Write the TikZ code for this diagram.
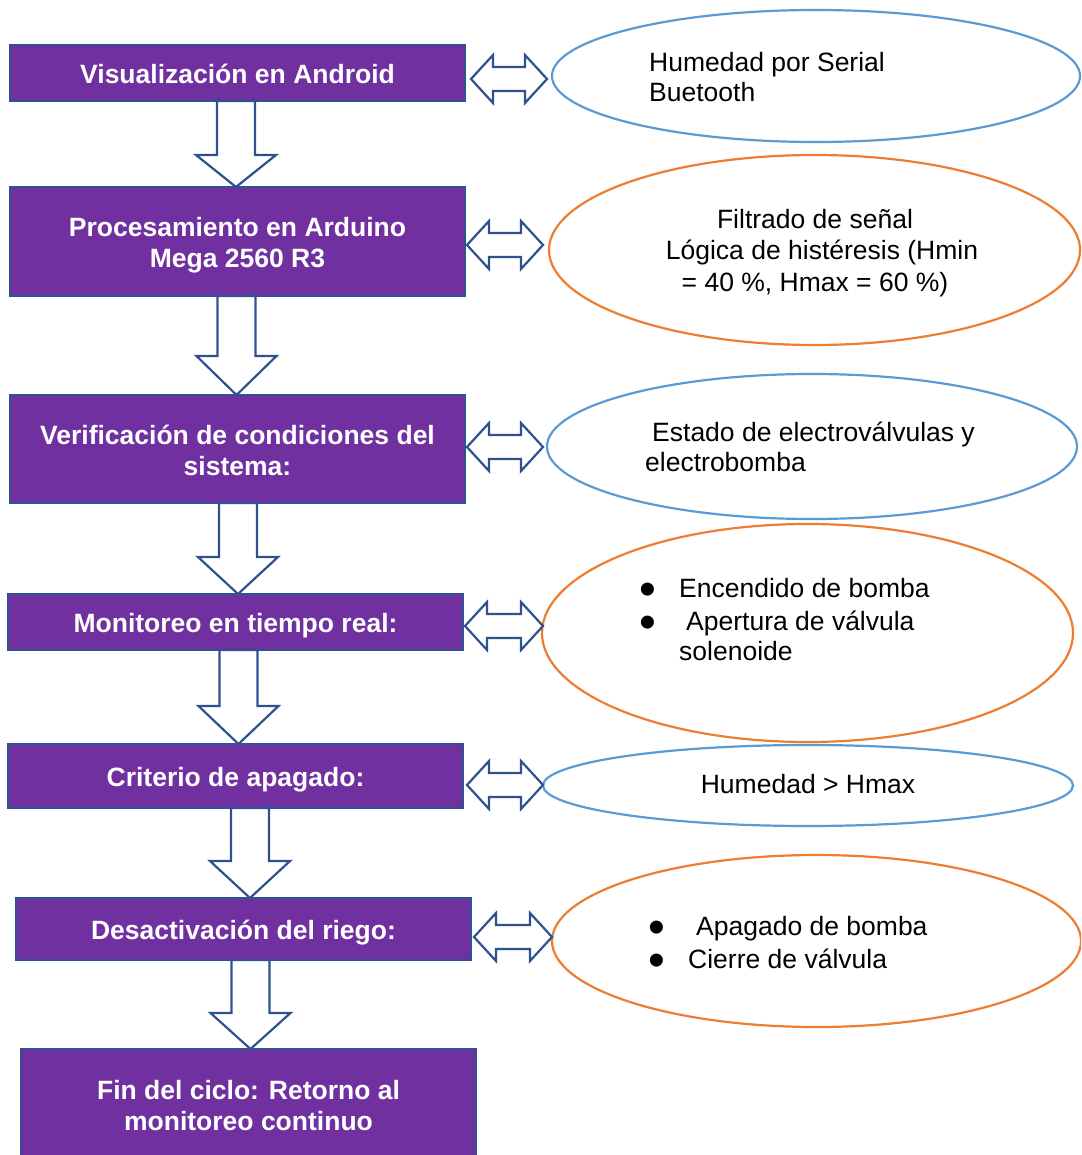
\documentclass[tikz,border=0pt]{standalone}
\usepackage{fontspec}
\setmainfont{Liberation Sans}
\usetikzlibrary{calc,shapes.geometric}
\definecolor{boxpurple}{HTML}{7030A0}
\definecolor{boxedge}{HTML}{2F528F}
\definecolor{eblue}{HTML}{5B9BD5}
\definecolor{eorange}{HTML}{ED7D31}
\tikzset{
  stepbox/.style={rectangle, fill=boxpurple, draw=boxedge, line width=2.5pt, outer sep=0pt, inner sep=0pt,
    minimum width=455pt},
  boxtext/.style={inner sep=0pt, text=white, align=center, font=\fontsize{26.5}{31}\selectfont\bfseries},
  ell/.style={ellipse, line width=2.2pt, outer sep=0pt, inner sep=0pt, fill=white},
  etext/.style={inner sep=0pt, font=\fontsize{26.5}{31}\selectfont, text=black},
  bullet/.style={inner sep=0pt, font=\fontsize{48}{48}\selectfont, text=black, anchor=base,
    text height=21pt, text depth=0pt},
  barrow/.style={draw=boxedge, fill=white, line width=2.2pt, line join=miter},
}
\newcommand{\blockdown}[4]{%
  \draw[barrow] let \p1=(#1.south), \p2=(#2.north) in
  ({#3pt-19pt},\y1) -- ({#3pt-19pt},{\y2+#4pt}) -- ({#3pt-40pt},{\y2+#4pt}) -- (#3pt,\y2)
  -- ({#3pt+40pt},{\y2+#4pt}) -- ({#3pt+19pt},{\y2+#4pt}) -- ({#3pt+19pt},\y1) -- cycle;}
\newcommand{\blockboth}[5]{%
  \draw[barrow] let \p1=(#1.east), \p2=(#2.west) in
  ({\x1+(#4)*1pt},{-#3pt}) -- ({\x1+(#4)*1pt+22pt},{-#3pt+24pt}) -- ({\x1+(#4)*1pt+22pt},{-#3pt+12pt})
  -- ({\x2+(#5)*1pt-22pt},{-#3pt+12pt}) -- ({\x2+(#5)*1pt-22pt},{-#3pt+24pt}) -- ({\x2+(#5)*1pt},{-#3pt})
  -- ({\x2+(#5)*1pt-22pt},{-#3pt-24pt}) -- ({\x2+(#5)*1pt-22pt},{-#3pt-12pt})
  -- ({\x1+(#4)*1pt+22pt},{-#3pt-12pt}) -- ({\x1+(#4)*1pt+22pt},{-#3pt-24pt}) -- cycle;}
\begin{document}
\begin{tikzpicture}[x=1pt,y=1pt]
\useasboundingbox (0,0) rectangle (1081,-1155);
\clip (0,0) rectangle (1081,-1155);
\fill[white] (0,0) rectangle (1081,-1155);

% box outlines placed first (invisible) so the block arrows can run beneath the boxes
\path (237.5,-73) node[stepbox, minimum height=56pt, draw=none, fill=none] (b1) {};
\path (237.5,-241.5) node[stepbox, minimum height=109pt, draw=none, fill=none] (b2) {};
\path (237.5,-449) node[stepbox, minimum height=108pt, draw=none, fill=none] (b3) {};
\path (235.5,-622) node[stepbox, minimum height=56pt, draw=none, fill=none] (b4) {};
\path (235.5,-776) node[stepbox, minimum height=64pt, draw=none, fill=none] (b5) {};
\path (243.5,-929) node[stepbox, minimum height=62pt, draw=none, fill=none] (b6) {};
\path (248.5,-1105.5) node[stepbox, minimum height=113pt, draw=none, fill=none] (b7) {};

% down block arrows
\blockdown{b1}{b2}{236}{32}
\blockdown{b2}{b3}{236.5}{39}
\blockdown{b3}{b4}{238}{37}
\blockdown{b4}{b5}{238.5}{38}
\blockdown{b5}{b6}{250}{37}
\blockdown{b6}{b7}{250.5}{36}

% visible boxes
\node[stepbox, minimum height=56pt] (v1) at (b1) {};
\node[stepbox, minimum height=109pt] (v2) at (b2) {};
\node[stepbox, minimum height=108pt] (v3) at (b3) {};
\node[stepbox, minimum height=56pt] (v4) at (b4) {};
\node[stepbox, minimum height=64pt] (v5) at (b5) {};
\node[stepbox, minimum height=62pt] (v6) at (b6) {};
\node[stepbox, minimum height=113pt] (v7) at (b7) {};

\node[boxtext] (l1) at ([yshift=-0.5pt]v1.center) {Visualización en Android};
\node[boxtext] (l2) at ([yshift=-4pt]v2.center) {Procesamiento en Arduino\\Mega 2560 R3};
\node[boxtext] (l3) at ([yshift=-1pt]v3.center) {Verificación de condiciones del\\sistema:};
\node[boxtext] (l4) at ([yshift=-4pt]v4.center) {Monitoreo en tiempo real:};
\node[boxtext] (l5) at ([yshift=-4pt]v5.center) {Criterio de apagado:};
\node[boxtext] (l6) at ([yshift=-4pt]v6.center) {Desactivación del riego:};
\node[boxtext] (l7) at (v7.center) {Fin del ciclo: Retorno al\\monitoreo continuo};

% ellipses
\node[ell, draw=eblue, minimum width=528pt, minimum height=132pt] (e1) at (816,-76) {};
\node[ell, draw=eorange, minimum width=531pt, minimum height=190pt] (e2) at (814.5,-250) {};
\node[ell, draw=eblue, minimum width=530pt, minimum height=145pt] (e3) at (812,-446.5) {};
\node[ell, draw=eorange, minimum width=531pt, minimum height=218pt] (e4) at (807.5,-633) {};
\node[ell, draw=eblue, minimum width=530pt, minimum height=81pt] (e5) at (808,-785.5) {};
\node[ell, draw=eorange, minimum width=529pt, minimum height=172pt] (e6) at (816.5,-941) {};

% double block arrows
\blockboth{v1}{e1}{79}{6}{-5}
\blockboth{v2}{e2}{245}{2}{-6}
\blockboth{v3}{e3}{447}{2}{-4}
\blockboth{v4}{e4}{626}{2}{1}
\blockboth{v5}{e5}{785}{4}{0}
\blockboth{v6}{e6}{937}{3}{0}

% ellipse texts
\node[etext, anchor=base west] (t1a) at (649,-72) {Humedad por Serial};
\node[etext, anchor=base west] (t1b) at (649,-102) {Buetooth};

\node[etext, anchor=base] (t2a) at (815,-229) {Filtrado de señal};
\node[etext, anchor=base] (t2b) at (822,-260) {Lógica de histéresis (Hmin};
\node[etext, anchor=base] (t2c) at (815,-291) {= 40 \%, Hmax = 60 \%)};

\node[etext, anchor=base west] (t3a) at (652,-441) {Estado de electroválvulas y};
\node[etext, anchor=base west] (t3b) at (645,-471) {electrobomba};

\node[bullet] (u4a) at (647.5,-605) {•};
\node[bullet] (u4b) at (647.5,-638) {•};
\node[etext, anchor=base west] (t4a) at (679,-597) {Encendido de bomba};
\node[etext, anchor=base west] (t4b) at (686,-630) {Apertura de válvula};
\node[etext, anchor=base west] (t4c) at (679,-660) {solenoide};

\node[etext, anchor=base] (t5) at (808,-793) {Humedad > Hmax};

\node[bullet] (u6a) at (657,-943.5) {•};
\node[bullet] (u6b) at (657,-976.5) {•};
\node[etext, anchor=base west] (t6a) at (696,-935) {Apagado de bomba};
\node[etext, anchor=base west] (t6b) at (688,-968) {Cierre de válvula};
\end{tikzpicture}
\end{document}
